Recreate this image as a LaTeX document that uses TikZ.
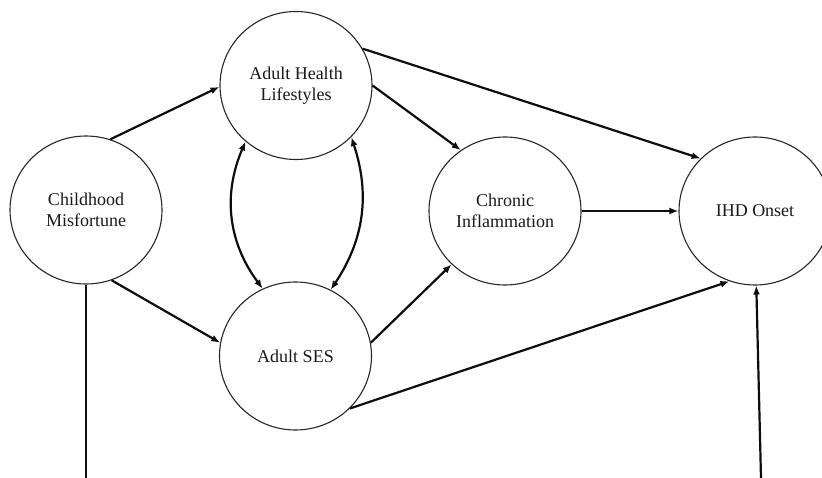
\documentclass[tikz,border=0pt]{standalone}
\usepackage{fontspec}
\setmainfont{Liberation Serif}
\usetikzlibrary{shapes.geometric,arrows.meta}
\begin{document}
\begin{tikzpicture}[x=1pt,y=-1pt,
  factor/.style={ellipse,draw=black!85,line width=1.1pt,minimum width=152pt,minimum height=148pt,
    inner sep=0pt,align=center,text=black!90,font=\fontsize{18}{21.5}\selectfont},
  tip/.style={Latex[length=9pt,width=7pt]},
  link/.style={line width=2.2pt,draw=black!95,-{Latex[length=9pt,width=7pt]}},
  dlink/.style={line width=2.2pt,draw=black!95,{Latex[length=9pt,width=7pt]}-{Latex[length=9pt,width=7pt]}},
  plain/.style={line width=2.2pt,draw=black!95}]
\useasboundingbox (0,0) rectangle (822,478);

% latent factors
\node[factor] (cm)  at (86,210)   {Childhood\\Misfortune};
\node[factor] (ahl) at (296,85.5) {Adult Health\\Lifestyles};
\node[factor] (ses) at (295.5,356){Adult SES};
\node[factor] (ci)  at (505,211)  {Chronic\\Inflammation};
\node[factor] (ihd) at (755,211)  {IHD Onset};

% free ends of the two vertical lines
\coordinate (cmdown) at (86,478);
\coordinate (ihdup)  at (761,478);

% paths
\draw[link] (cm.71.6) -- (ahl.181);
\draw[link] (cm.-70.4) -- (ses.170);
\draw[dlink] (ahl.-132) to[bend right=30] (ses.116.6);
\draw[dlink] (ahl.-43) to[bend left=26] (ses.62.8);
\draw[link] (ahl.0) -- (ci.126);
\draw[link] (ahl.29) -- (ihd.136.6);
\draw[link] (ses.10.5) -- (ci.-135.5);
\draw[link] (ses.-44) -- (ihd.-110);
\draw[link] (ci.0) -- (ihd.180);
\draw[plain] (cm.-90) -- (cmdown);
\draw[link] (ihdup) -- (ihd.-89);
\end{tikzpicture}
\end{document}
